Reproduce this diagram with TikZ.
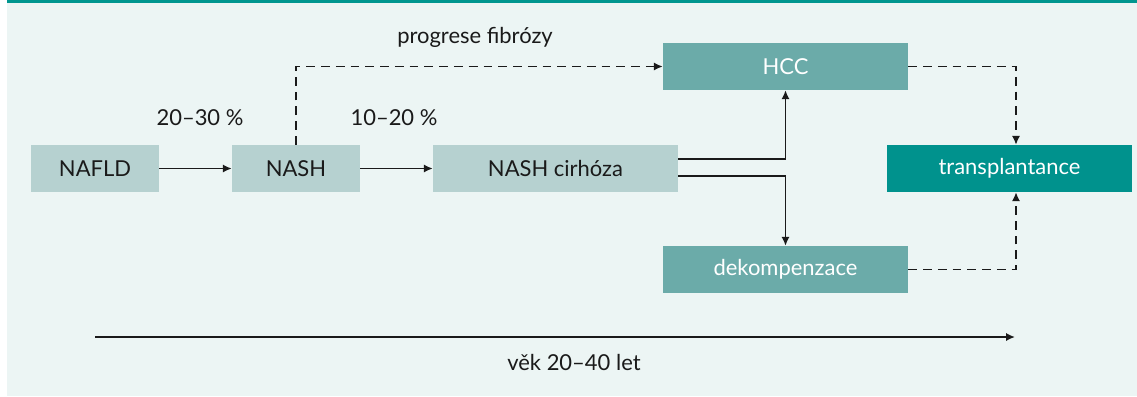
\documentclass[tikz,border=0pt]{standalone}
\usepackage{fontspec}
\setmainfont{Lato}
\usetikzlibrary{arrows.meta}
\definecolor{bgmint}{HTML}{ECF5F4}
\definecolor{topteal}{HTML}{00968F}
\definecolor{boxlight}{HTML}{B6D1D0}
\definecolor{boxmid}{HTML}{6BABA9}
\definecolor{boxdark}{HTML}{00928D}
\definecolor{txtdark}{HTML}{1A1A1A}

\begin{document}
\begin{tikzpicture}[x=0.02cm,y=-0.02cm,font=\fontsize{12.5}{14}\selectfont,
	>={Latex[length=5pt,width=4.6pt]},
	stage/.style={fill=boxlight, text=txtdark, minimum height=0.94cm, inner sep=0pt},
	result/.style={fill=boxmid, text=white, minimum width=4.9cm, minimum height=0.94cm, inner sep=0pt},
	final/.style={fill=boxdark, text=white, minimum width=4.9cm, minimum height=0.94cm, inner sep=0pt},
	flow/.style={->, line width=0.8pt, txtdark},
	maybe/.style={->, line width=0.8pt, txtdark, dash pattern=on 5pt off 3.4pt}]

%----------------------------
% Background panel
%----------------------------
\useasboundingbox (0,0) rectangle (1137,396);
\fill[bgmint] (7,3) rectangle (1137,396);
\fill[topteal] (7,0) rectangle (1137,3);

%----------------------------
% Stages
%----------------------------
\node[stage, minimum width=2.56cm] (nafld) at (95,168.5) {NAFLD};
\node[stage, minimum width=2.56cm] (nash) at (296,168.5) {NASH};
\node[stage, minimum width=4.9cm] (cirhoza) at (555.5,168.5) {NASH cirhóza};

% outcomes
\node[result] (hcc) at (785.5,66.5) {HCC};
\node[result] (dekomp) at (785.5,269.5) {dekompenzace};
\node[final] (transpl) at (1009.5,168.5) {transplantance};

% labels
\node[txtdark] (p1) at (200,118) {20–30 \%};
\node[txtdark] (p2) at (394,118) {10–20 \%};
\node[txtdark] (fib) at (475,37) {progrese fibrózy};

%----------------------------
% Arrows
%----------------------------
\draw[flow] (nafld.east) -- (nash.west);
\draw[flow] (nash.east) -- (cirhoza.west);
\draw[maybe] (nash.north) |- (hcc.west);
\draw[flow] ([yshift=0.19cm]cirhoza.east) -| (hcc.south);
\draw[flow] ([yshift=-0.15cm]cirhoza.east) -| (dekomp.north);
\draw[maybe] (hcc.east) -| ([xshift=0.13cm]transpl.north);
\draw[maybe] (dekomp.east) -| ([xshift=0.13cm]transpl.south);

%----------------------------
% Age axis
%----------------------------
\coordinate (age0) at (95,337);
\coordinate (age1) at (1015,337);
\draw[->, line width=1.1pt, txtdark] (age0) -- (age1);
\node[txtdark] (age) at (574,362) {věk 20–40 let};
\end{tikzpicture}
\end{document}
